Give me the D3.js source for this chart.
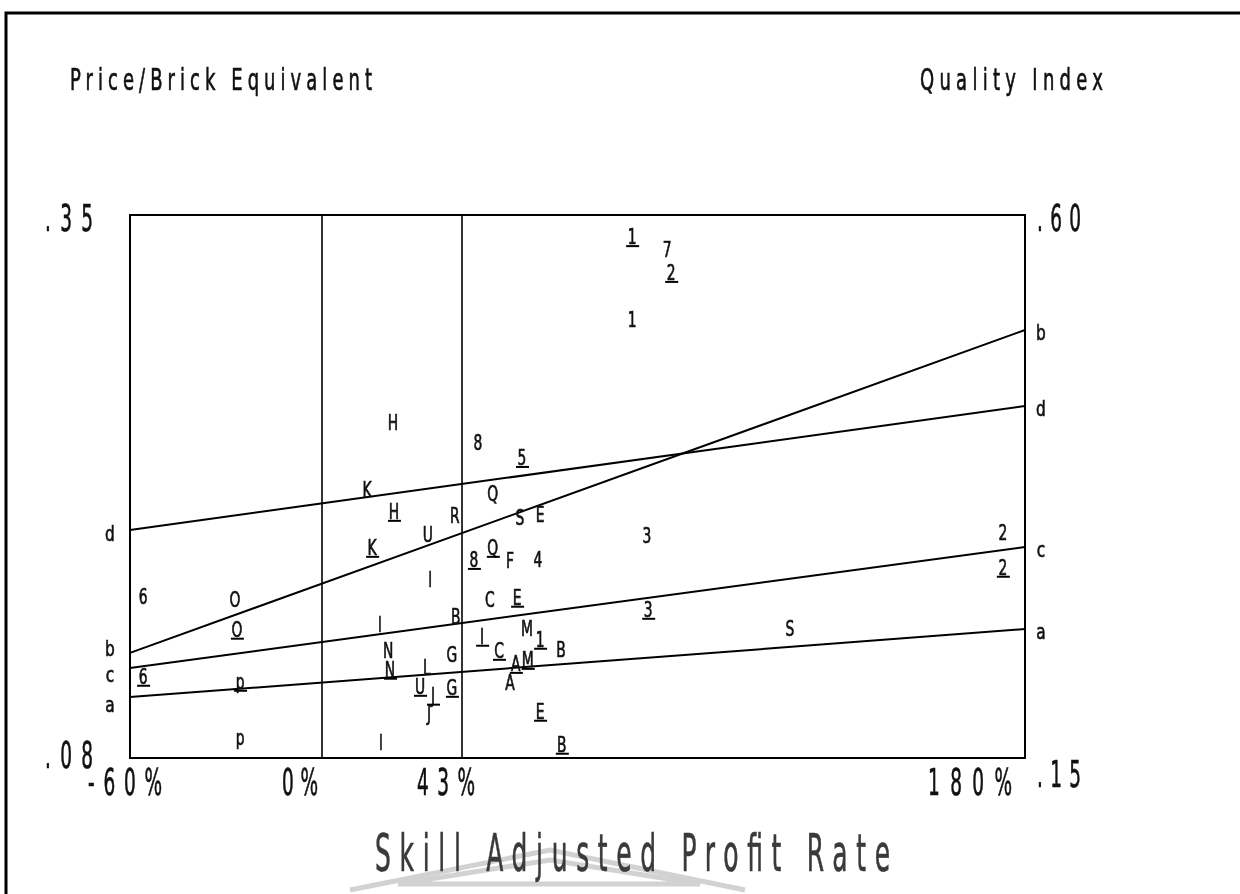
<!DOCTYPE html>
<html>
<head>
<meta charset="utf-8">
<script src="https://cdn.jsdelivr.net/npm/d3@7"></script>
<style>
  body { margin: 0; background: #fff; }
  svg { will-change: transform; }
  text { font-family: "DejaVu Sans", sans-serif; fill: #111; stroke: #111; stroke-width: 0.7; }
</style>
</head>
<body>
<script>
"use strict";

// DATA
// x = skill adjusted profit rate (%), y = price per brick equivalent (left axis units)
const xTicks = [-60, 0, 43, 180];
const xTickLabels = ["-60%", "0%", "43%", "180%"];
const leftTicks = [0.35, 0.08];
const leftTickLabels = [".35", ".08"];
const rightTicks = [0.60, 0.15];
const rightTickLabels = [".60", ".15"];

// point labels: label, x, y, underlined
const pointLabels = ["1","7","2","1","H","8","5","K","Q","H","R","S","E","U","3","2","K","Q","8","F","4","2","l","6","O","C","E","3","O","S","l","B","I","M","1","B","C","N","G","A","M","N","L","6","p","U","G","A","J","J","E","p","l","B"];
const pointX = [84.4,92.9,93.9,84.4,21.8,46.9,57.6,13.8,50.5,22.1,40.8,57.1,62.0,32.5,88.0,174.6,15.4,50.5,45.9,54.7,61.5,174.6,33.2,-55.9,-27.2,49.8,56.4,88.3,-26.6,122.8,17.8,41.1,47.9,58.8,62.0,67.1,52.0,20.3,39.9,56.1,59.0,20.9,32.2,-55.9,-25.6,30.1,39.9,54.7,34.1,32.9,62.0,-25.6,18.1,67.3];
const pointY = [0.339,0.3326,0.3212,0.2978,0.2466,0.2367,0.2292,0.2133,0.2113,0.2024,0.2004,0.1994,0.2009,0.1910,0.1905,0.1920,0.1845,0.1845,0.1785,0.1780,0.1785,0.1746,0.1686,0.1602,0.1587,0.1587,0.1597,0.1537,0.1438,0.1443,0.1463,0.1502,0.1403,0.1443,0.1388,0.1338,0.1333,0.1333,0.1313,0.1268,0.1288,0.1239,0.1249,0.1204,0.1179,0.1154,0.1149,0.1174,0.1110,0.1020,0.1030,0.0900,0.0876,0.0866];
const pointUnder = [1,0,1,0,0,0,1,0,0,1,0,0,0,0,0,0,1,1,1,0,0,1,0,0,0,0,1,1,1,0,0,0,1,0,1,0,1,0,0,1,1,1,0,1,1,1,1,0,1,0,1,0,0,1];

// fitted lines: value at -60% and at 180%
const lineNames = ["d", "b", "c", "a"];
const lineStart = [0.1934, 0.1323, 0.1248, 0.1103];
const lineEnd = [0.2550, 0.2928, 0.1849, 0.1441];

// LAYOUT
const width = 1240, height = 894;
const plot = { left: 130, right: 1025, top: 215, bottom: 758 };

const svg = d3.select("body").append("svg")
  .attr("width", width).attr("height", height);

// piecewise profit-rate axis, as in the original
const x = d3.scaleLinear()
  .domain(xTicks)
  .range([plot.left, 322, 462, plot.right]);
const y = d3.scaleLinear()
  .domain([0.08, 0.35])
  .range([plot.bottom, plot.top]);
const yRight = d3.scaleLinear()
  .domain([0.15, 0.60])
  .range([plot.bottom, plot.top]);

// narrow, widely spaced plotter-style text
const squeezed = (g, px, py, str, size, len, sx) =>
  g.append("g")
    .attr("transform", `translate(${px},${py}) scale(${sx},1)`)
    .append("text")
    .attr("font-size", size)
    .attr("textLength", len / sx)
    .attr("lengthAdjust", "spacing")
    .text(str);

// faint watermark at the bottom
const wm = svg.append("g").attr("fill", "none").attr("stroke", "#d2d2d2").attr("stroke-width", 5);
wm.append("path").attr("d", "M350,890 L550,850 L745,890");
wm.append("path").attr("d", "M398,884 L550,860 L700,884 Z");

// outer frame
svg.append("rect")
  .attr("x", 6).attr("y", 13).attr("width", 1250).attr("height", 900)
  .attr("fill", "none").attr("stroke", "#000").attr("stroke-width", 3);

// titles
squeezed(svg, 70, 90, "Price/Brick Equivalent", 31, 302, 0.58);
squeezed(svg, 920, 90, "Quality Index", 31, 183, 0.58);

// plot frame and the 0% / 43% verticals
const frame = svg.append("g").attr("stroke", "#000").attr("fill", "none");
frame.append("rect")
  .attr("x", plot.left).attr("y", plot.top)
  .attr("width", plot.right - plot.left).attr("height", plot.bottom - plot.top)
  .attr("stroke-width", 2);
frame.selectAll("line.v")
  .data([0, 43])
  .join("line")
  .attr("class", "v")
  .attr("x1", (d) => x(d)).attr("x2", (d) => x(d))
  .attr("y1", plot.top).attr("y2", plot.bottom)
  .attr("stroke-width", 1.6);

// axis tick labels
const tickG = svg.append("g");
leftTicks.forEach((t, i) =>
  squeezed(tickG, 45, y(t) + (i === 0 ? 16 : 10), leftTickLabels[i], 37, 48, 0.5));
rightTicks.forEach((t, i) =>
  squeezed(tickG, 1037, yRight(t) + (i === 0 ? 16 : 29), rightTickLabels[i], 37, 44, 0.5));
const xLabelLen = [74, 36, 58, 84];
const xLabelEnd = [162, 318, 475, 1012];
xTicks.forEach((t, i) =>
  squeezed(tickG, xLabelEnd[i] - xLabelLen[i], 795, xTickLabels[i], 37, xLabelLen[i], 0.5));

squeezed(svg, 375, 871, "Skill Adjusted Profit Rate", 52, 515, 0.48)
  .style("fill", "#3a3a3a").style("stroke", "#3a3a3a");

// fitted lines with end letters
const lines = lineNames.map((name, i) => ({ name, v0: lineStart[i], v1: lineEnd[i] }));
svg.append("g")
  .selectAll("line")
  .data(lines)
  .join("line")
  .attr("x1", x(-60)).attr("y1", (d) => y(d.v0))
  .attr("x2", x(180)).attr("y2", (d) => y(d.v1))
  .attr("stroke", "#000").attr("stroke-width", 2);
const leftNudge = { d: 4, b: -4, c: 7, a: 8 };
const endLabels = svg.append("g").attr("font-size", 22);
endLabels.selectAll("g.l")
  .data(lines)
  .join("g")
  .attr("class", "l")
  .attr("transform", (d) => `translate(110,${y(d.v0) + leftNudge[d.name] + 7}) scale(0.7,1)`)
  .append("text")
  .attr("text-anchor", "middle")
  .text((d) => d.name);
endLabels.selectAll("g.r")
  .data(lines)
  .join("g")
  .attr("class", "r")
  .attr("transform", (d) => `translate(1041,${y(d.v1) + 10}) scale(0.7,1)`)
  .append("text")
  .attr("text-anchor", "middle")
  .text((d) => d.name);

// the letter points
const points = pointLabels.map((label, i) => ({
  label, px: pointX[i], py: pointY[i], under: pointUnder[i] === 1
}));
const pg = svg.append("g")
  .selectAll("g")
  .data(points)
  .join("g")
  .attr("transform", (d) => `translate(${x(d.px)},${y(d.py)})`);
pg.append("text")
  .attr("text-anchor", "middle")
  .attr("y", 7)
  .attr("font-size", 21)
  .attr("transform", "scale(0.66,1)")
  .text((d) => d.label);
pg.filter((d) => d.under)
  .append("line")
  .attr("x1", -6).attr("x2", 7)
  .attr("y1", 9).attr("y2", 9)
  .attr("stroke", "#000").attr("stroke-width", 2);
</script>
</body>
</html>
